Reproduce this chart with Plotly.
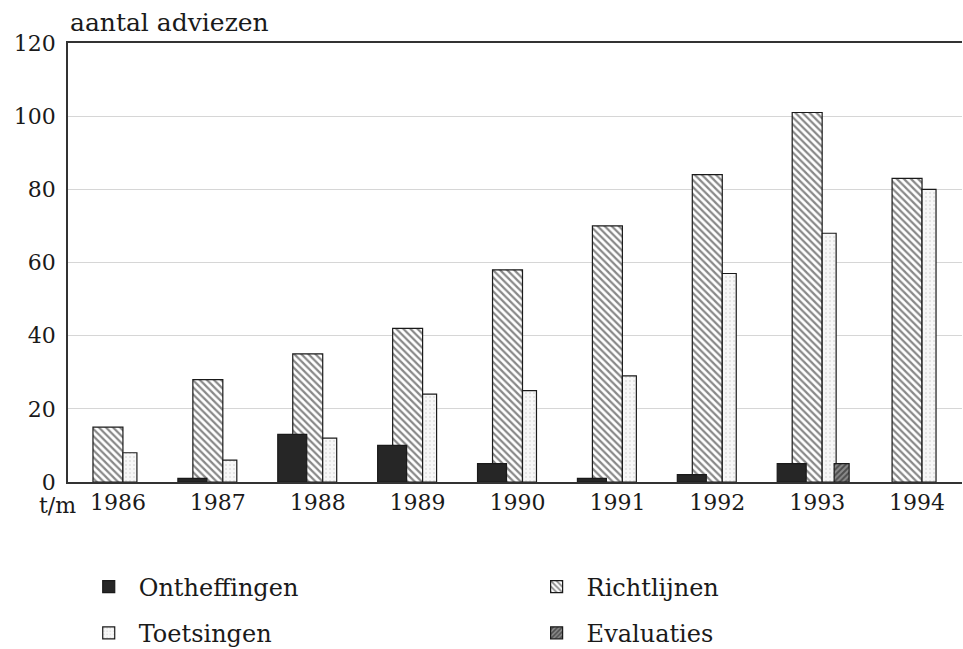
import plotly.graph_objects as go

years = [1986, 1987, 1988, 1989, 1990, 1991, 1992, 1993, 1994]
richtlijnen = [15, 28, 35, 42, 58, 70, 84, 101, 83]
ontheffingen = [0, 1, 13, 10, 5, 1, 2, 5, 0]
toetsingen = [8, 6, 12, 24, 25, 29, 57, 68, 80]
evaluaties = [0, 0, 0, 0, 0, 0, 0, 5, 0]
y_ticks = [0, 20, 40, 60, 80, 100, 120]

FONT = "DejaVu Serif"
line = dict(color="#1a1a1a", width=1.2)


def nz(vals):
    # a zero count draws no bar at all in the original
    return [v if v else None for v in vals]


fig = go.Figure()

# draw order matters: the dark bars sit on top of the hatched ones
fig.add_trace(go.Bar(
    x=years, y=nz(richtlijnen), name="Richtlijnen", offset=-0.25, width=0.30,
    marker=dict(color="white", line=line,
                pattern=dict(shape="\\", fgcolor="#111111", bgcolor="white", size=5, solidity=0.45)),
    legend="legend2", legendgroup="r",
))
fig.add_trace(go.Bar(
    x=years, y=nz(ontheffingen), name="Ontheffingen", offset=-0.40, width=0.29,
    marker=dict(color="#262626", line=line),
    legend="legend", legendgroup="o",
))
fig.add_trace(go.Bar(
    x=years, y=nz(toetsingen), name="Toetsingen", offset=0.05, width=0.14,
    marker=dict(color="#f1f1f1", line=line,
                pattern=dict(shape=".", fgcolor="#c4c4c4", bgcolor="#f7f7f7", size=4, solidity=0.2)),
    legend="legend", legendgroup="t",
))
fig.add_trace(go.Bar(
    x=years, y=nz(evaluaties), name="Evaluaties", offset=0.17, width=0.15,
    marker=dict(color="white", line=line,
                pattern=dict(shape="/", fgcolor="#111111", bgcolor="#8a8a8a", size=4, solidity=0.5)),
    legend="legend2", legendgroup="e",
))

legend_style = dict(
    orientation="v", xanchor="left", y=-0.188, yanchor="top",
    itemwidth=50, traceorder="grouped", tracegroupgap=12,
    font=dict(family=FONT, size=24), bgcolor="rgba(0,0,0,0)",
)

fig.update_layout(
    width=963, height=649,
    barmode="overlay",
    paper_bgcolor="white", plot_bgcolor="white",
    font=dict(family=FONT, color="#1a1a1a", size=22),
    margin=dict(l=68, r=1, t=43, b=167, autoexpand=False),
    showlegend=True,
    legend=dict(x=0.012, **legend_style),
    legend2=dict(x=0.513, **legend_style),
    xaxis=dict(
        range=[1985.5, 1994.45], tickmode="array", tickvals=years,
        ticktext=[str(y) for y in years], ticks="", showgrid=False,
        showline=True, linecolor="#333333", linewidth=1.5, mirror=True,
        zeroline=False, tickfont=dict(size=22),
    ),
    yaxis=dict(
        range=[0, 120], tickmode="array", tickvals=y_ticks, ticks="",
        showgrid=True, gridcolor="#d6d6d6", gridwidth=1,
        showline=True, linecolor="#333333", linewidth=1.5, mirror=False,
        zeroline=False, tickfont=dict(size=22), ticklabelstandoff=6,
    ),
)

fig.add_annotation(text="aantal adviezen", xref="paper", yref="paper", x=0, y=1,
                   xanchor="left", yanchor="bottom", yshift=4, showarrow=False,
                   font=dict(size=25))
fig.add_annotation(text="t/m", xref="paper", yref="paper", x=0, y=0,
                   xanchor="right", yanchor="top", yshift=-9, xshift=10, showarrow=False,
                   font=dict(size=22))

# drop the browser's default body margin so the figure sits at the window corner
fig.write_html("out.html", config={"displayModeBar": False},
               post_script="document.body.style.margin='0';")
